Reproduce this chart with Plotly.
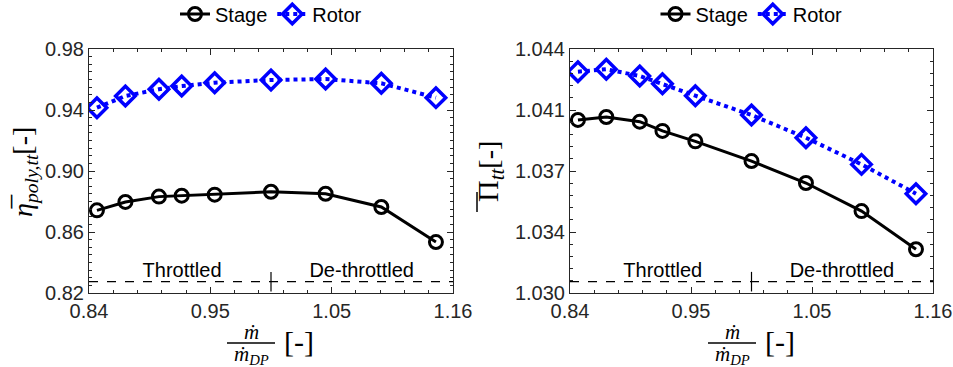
import plotly.graph_objects as go

# ---------------- data ----------------
mass_flow = [0.847, 0.872, 0.9015, 0.9215, 0.9505, 1.000, 1.048, 1.097, 1.145]

eta_stage = [0.8742, 0.8797, 0.8832, 0.8838, 0.8845, 0.8864, 0.8851, 0.8764, 0.8534]
eta_rotor = [0.9415, 0.9492, 0.9536, 0.9557, 0.9579, 0.9597, 0.9603, 0.9575, 0.9481]

pi_stage = [1.03993, 1.04010, 1.03983, 1.03930, 1.03870, 1.03757, 1.03631, 1.03470, 1.03251]
pi_rotor = [1.04270, 1.04284, 1.04245, 1.04201, 1.04132, 1.04021, 1.03891, 1.03738, 1.03570]

x_range = [0.84, 1.16]
x_tickvals = [0.84, 0.84 + 0.32 / 3, 0.84 + 0.64 / 3, 1.16]
x_ticktext = ["0.84", "0.95", "1.05", "1.16"]

eta_range = [0.82, 0.98]
eta_tickvals = [0.82, 0.86, 0.90, 0.94, 0.98]
eta_ticktext = ["0.82", "0.86", "0.90", "0.94", "0.98"]

pi_range = [1.030, 1.044]
pi_tickvals = [1.030, 1.0335, 1.037, 1.0405, 1.044]
pi_ticktext = ["1.030", "1.034", "1.037", "1.041", "1.044"]

design_point = 1.0
eta_divider = 0.8274
pi_divider = 1.03065
eta_label_y = 0.834
pi_label_y = 1.03122
region_labels = ["Throttled", "De-throttled"]
region_label_x = [0.9218, 1.0797]

# ---------------- style ----------------
SANS = "Liberation Sans"
SERIF = "Liberation Serif"
AXC = "#262626"
BLUE = "#0000FF"
FS = 20

stage_line = dict(color="black", width=3)
stage_marker = dict(symbol="circle-open", size=13, color="black", line=dict(width=3, color="black"))
rotor_line = dict(color=BLUE, width=4, dash="dot")
rotor_marker = dict(symbol="diamond-open", size=15, color=BLUE, line=dict(width=3.5, color=BLUE))

fig = go.Figure()

panels = [
    ("x", "y", "legend", eta_stage, eta_rotor, eta_divider, eta_label_y),
    ("x2", "y2", "legend2", pi_stage, pi_rotor, pi_divider, pi_label_y),
]
for xa, ya, lg, st, ro, div, ly in panels:
    fig.add_trace(go.Scatter(x=x_range, y=[div, div], mode="lines",
                             line=dict(color="black", width=1.2, dash="dash"),
                             xaxis=xa, yaxis=ya, showlegend=False, hoverinfo="skip"))
    fig.add_trace(go.Scatter(x=[design_point], y=[div], mode="markers",
                             marker=dict(symbol="line-ns", size=14, line=dict(width=1.2, color="black")),
                             xaxis=xa, yaxis=ya, showlegend=False, hoverinfo="skip"))
    fig.add_trace(go.Scatter(x=region_label_x, y=[ly, ly], mode="text", text=region_labels,
                             textfont=dict(family=SANS, size=FS, color="black"),
                             textposition="middle center",
                             xaxis=xa, yaxis=ya, showlegend=False, hoverinfo="skip"))
    fig.add_trace(go.Scatter(x=mass_flow, y=st, mode="lines+markers", name="Stage",
                             line=stage_line, marker=stage_marker,
                             xaxis=xa, yaxis=ya, legend=lg))
    fig.add_trace(go.Scatter(x=mass_flow, y=ro, mode="lines+markers", name="Rotor",
                             line=rotor_line, marker=rotor_marker,
                             xaxis=xa, yaxis=ya, legend=lg))

W, H = 953, 367
ml, mr, mt, mb = 89, 20, 49, 74
pw = W - ml - mr
ph = H - mt - mb


def px2x(p):
    return (p - ml) / pw


def px2y(p):
    return (H - mb - p) / ph


xdom1 = [0, px2x(453)]
xdom2 = [px2x(570), 1]

common_axis = dict(
    showline=True, linecolor=AXC, linewidth=1, mirror="allticks",
    ticks="inside", ticklen=6, tickcolor=AXC, tickwidth=1,
    showgrid=False, zeroline=False,
    tickfont=dict(family=SANS, size=FS, color="#262626"),
)

xaxis_common = dict(common_axis, range=x_range, tickmode="array",
                    tickvals=x_tickvals, ticktext=x_ticktext,
                    minor=dict(ticks="inside", ticklen=3, tickcolor=AXC, dtick=0.32 / 15, tick0=0.84,
                               showgrid=False))

legend_common = dict(orientation="h", xanchor="center", y=px2y(14), yanchor="middle",
                     font=dict(family=SANS, size=FS, color="black"),
                     bgcolor="rgba(0,0,0,0)", itemwidth=30, tracegroupgap=0)

fig.update_layout(
    width=W, height=H,
    margin=dict(l=ml, r=mr, t=mt, b=mb, autoexpand=False),
    paper_bgcolor="white", plot_bgcolor="white",
    xaxis=dict(xaxis_common, domain=xdom1, anchor="y"),
    xaxis2=dict(xaxis_common, domain=xdom2, anchor="y2"),
    yaxis=dict(common_axis, range=eta_range, tickmode="array", tickvals=eta_tickvals,
               ticktext=eta_ticktext, anchor="x",
               minor=dict(ticks="inside", ticklen=3, tickcolor=AXC, dtick=0.005, tick0=0.82,
                          showgrid=False)),
    yaxis2=dict(common_axis, range=pi_range, tickmode="array", tickvals=pi_tickvals,
                ticktext=pi_ticktext, anchor="x2",
                minor=dict(ticks="inside", ticklen=3, tickcolor=AXC, dtick=0.0007, tick0=1.030,
                           showgrid=False)),
    legend=dict(legend_common, x=(xdom1[0] + xdom1[1]) / 2),
    legend2=dict(legend_common, x=(xdom2[0] + xdom2[1]) / 2),
    showlegend=True,
)

annotations = []
shapes = []
# y-axis titles
annotations.append(dict(text="<i>η̅</i><sub><i>poly,tt</i></sub><span style='font-size:28px'>[-]</span>",
                        xref="paper", yref="paper", x=px2x(24), y=px2y(172), textangle=-90,
                        showarrow=False, font=dict(family=SERIF, size=28, color="black"),
                        xanchor="center", yanchor="middle"))
annotations.append(dict(text="Π<sub><i>tt</i></sub><span style='font-size:28px'>[-]</span>",
                        xref="paper", yref="paper", x=px2x(490), y=px2y(172), textangle=-90,
                        showarrow=False, font=dict(family=SERIF, size=30, color="black"),
                        xanchor="center", yanchor="middle"))
# overline of the Pi symbol (rotated label -> vertical bar on its left)
shapes.append(dict(type="line", xref="paper", yref="paper",
                   x0=px2x(477), x1=px2x(477), y0=px2y(192), y1=px2y(212),
                   line=dict(color="black", width=1.5)))

for offset in (0, 481):
    cx = 251 + offset
    annotations.append(dict(text="<i>ṁ</i>", xref="paper", yref="paper", x=px2x(cx), y=px2y(332),
                            showarrow=False, font=dict(family=SERIF, size=21, color="black"),
                            xanchor="center", yanchor="middle"))
    annotations.append(dict(text="<i>ṁ</i><sub><i>DP</i></sub>", xref="paper", yref="paper",
                            x=px2x(cx), y=px2y(355), showarrow=False,
                            font=dict(family=SERIF, size=21, color="black"),
                            xanchor="center", yanchor="middle"))
    annotations.append(dict(text="[-]", xref="paper", yref="paper", x=px2x(299 + offset), y=px2y(341),
                            showarrow=False, font=dict(family=SERIF, size=30, color="black"),
                            xanchor="center", yanchor="middle"))
    shapes.append(dict(type="line", xref="paper", yref="paper",
                       x0=px2x(227 + offset), x1=px2x(275 + offset),
                       y0=px2y(343), y1=px2y(343), line=dict(color="black", width=1.5)))

fig.update_layout(annotations=annotations, shapes=shapes)

fig.write_html("out.html")
